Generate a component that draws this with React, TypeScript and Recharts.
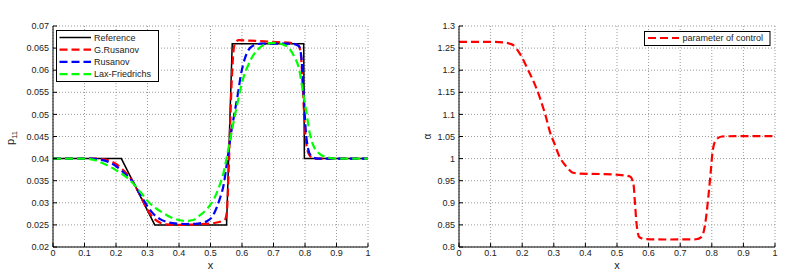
import { LineChart, Line, XAxis, YAxis, CartesianGrid, Legend } from "recharts";

const FONT = '"Liberation Sans", Arial, Helvetica, sans-serif';

// x positions of ticks, shared by both panels
const xTicks = [0, 0.1, 0.2, 0.3, 0.4, 0.5, 0.6, 0.7, 0.8, 0.9, 1];
const pTicks = [0.02, 0.025, 0.03, 0.035, 0.04, 0.045, 0.05, 0.055, 0.06, 0.065, 0.07];
const alphaTicks = [0.8, 0.85, 0.9, 0.95, 1, 1.05, 1.1, 1.15, 1.2, 1.25, 1.3];

// left panel: p11 vs x, [x, p11]
const referenceP: [number, number][] = [
  [0, 0.04], [0.217, 0.04], [0.323, 0.025], [0.551, 0.025], [0.569, 0.066],
  [0.796, 0.066], [0.798, 0.04], [1, 0.04],
];

const gRusanovP: [number, number][] = [
  [0, 0.04], [0.14, 0.04], [0.17, 0.0397], [0.2, 0.0388], [0.22, 0.0376], [0.25, 0.0352],
  [0.28, 0.0312], [0.3, 0.0284], [0.32, 0.0265], [0.34, 0.0255], [0.36, 0.0251], [0.4, 0.025],
  [0.45, 0.0251], [0.5, 0.0253], [0.53, 0.0257], [0.545, 0.0261], [0.552, 0.028], [0.557, 0.036],
  [0.562, 0.0465], [0.567, 0.057], [0.572, 0.0635], [0.578, 0.0662], [0.59, 0.0668], [0.62, 0.0667],
  [0.7, 0.0664], [0.76, 0.0661], [0.78, 0.0655], [0.787, 0.0635], [0.793, 0.056], [0.8, 0.0465],
  [0.806, 0.0425], [0.815, 0.0407], [0.83, 0.04], [1, 0.04],
];

const rusanovP: [number, number][] = [
  [0, 0.04], [0.12, 0.04], [0.15, 0.0398], [0.18, 0.0391], [0.2, 0.0383], [0.22, 0.0371],
  [0.25, 0.035], [0.28, 0.0315], [0.3, 0.0292], [0.32, 0.0274], [0.34, 0.0263], [0.36, 0.0257],
  [0.38, 0.0254], [0.42, 0.0252], [0.46, 0.0253], [0.49, 0.0259], [0.505, 0.0268], [0.52, 0.029],
  [0.53, 0.031], [0.541, 0.0338], [0.555, 0.0405], [0.567, 0.0465], [0.578, 0.051], [0.588, 0.0551],
  [0.596, 0.0588], [0.604, 0.0614], [0.615, 0.0638], [0.636, 0.0656], [0.66, 0.066], [0.76, 0.066],
  [0.78, 0.0655], [0.788, 0.0632], [0.795, 0.0555], [0.802, 0.0468], [0.81, 0.0422], [0.82, 0.0406],
  [0.84, 0.04], [1, 0.04],
];

const laxFriedrichsP: [number, number][] = [
  [0, 0.04], [0.1, 0.04], [0.13, 0.0397], [0.16, 0.0389], [0.2, 0.0374], [0.23, 0.036],
  [0.254, 0.0344], [0.28, 0.0322], [0.307, 0.0299], [0.33, 0.0286], [0.35, 0.0277], [0.375, 0.0267],
  [0.4, 0.0261], [0.425, 0.0259], [0.445, 0.0261], [0.467, 0.0272], [0.49, 0.0287], [0.509, 0.0306],
  [0.525, 0.0332], [0.541, 0.0367], [0.562, 0.0442], [0.583, 0.0517], [0.604, 0.0582], [0.62, 0.0612],
  [0.636, 0.0634], [0.655, 0.065], [0.678, 0.066], [0.7, 0.0662], [0.73, 0.0658], [0.75, 0.0649],
  [0.765, 0.0632], [0.782, 0.06], [0.793, 0.0553], [0.805, 0.0502], [0.815, 0.0458], [0.825, 0.0432],
  [0.84, 0.0415], [0.86, 0.0405], [0.9, 0.04], [1, 0.04],
];

// right panel: control parameter alpha vs x
const alphaControl: [number, number][] = [
  [0, 1.264], [0.1, 1.264], [0.14, 1.263], [0.16, 1.26], [0.171, 1.257], [0.192, 1.238],
  [0.219, 1.2], [0.245, 1.159], [0.272, 1.102], [0.293, 1.049], [0.298, 1.041], [0.319, 1.003],
  [0.341, 0.981], [0.361, 0.968], [0.383, 0.966], [0.45, 0.965], [0.5, 0.9635], [0.541, 0.9595],
  [0.552, 0.943], [0.557, 0.898], [0.562, 0.852], [0.571, 0.822], [0.589, 0.818], [0.65, 0.817],
  [0.75, 0.8175], [0.768, 0.823], [0.779, 0.852], [0.789, 0.913], [0.797, 0.973], [0.803, 1.019],
  [0.814, 1.043], [0.832, 1.05], [0.9, 1.051], [1, 1.051],
];

const toRows = (pts: [number, number][]) => pts.map(([x, y]) => ({ x, y }));

const leftSeries = [
  { name: "Reference", data: referenceP, color: "#000000", width: 1.5, dash: undefined, curve: "linear" },
  { name: "G.Rusanov", data: gRusanovP, color: "#ff0000", width: 2.2, dash: "8 4", curve: "monotone" },
  { name: "Rusanov", data: rusanovP, color: "#0000ff", width: 2.2, dash: "8 4", curve: "monotone" },
  { name: "Lax-Friedrichs", data: laxFriedrichsP, color: "#00ff00", width: 2.2, dash: "8 4", curve: "monotone" },
];

const tickStyle = { fill: "#222", fontSize: 9, fontFamily: FONT };

const title = (text: string) => (props: any) => {
  const vb = props.viewBox;
  return (
    <text x={vb.x + vb.width / 2} y={vb.y - 7} textAnchor="middle" fontSize={10.5} fontFamily={FONT} fill="#222">
      {text}
    </text>
  );
};

const xLabel = (props: any) => {
  const vb = props.viewBox;
  return (
    <text x={vb.x + vb.width / 2} y={vb.y + 22} textAnchor="middle" fontSize={11} fontFamily={FONT} fill="#222">
      x
    </text>
  );
};

const pLabel = (props: any) => {
  const vb = props.viewBox;
  const x = vb.x + 14;
  const y = 138;
  return (
    <text x={x} y={y} transform={`rotate(-90 ${x} ${y})`} textAnchor="middle" fontSize={11} fontFamily={FONT} fill="#222">
      p<tspan fontSize={7.5} dy={3}>11</tspan>
    </text>
  );
};

const alphaLabel = (props: any) => {
  const vb = props.viewBox;
  const x = vb.x + 31;
  const y = 136.5;
  return (
    <text x={x} y={y} transform={`rotate(-90 ${x} ${y})`} textAnchor="middle" fontSize={10} fontFamily={FONT} fill="#222">
      α
    </text>
  );
};

const LeftLegend = () => (
  <svg width={103} height={52} style={{ display: "block" }}>
    <rect x={0.5} y={0.5} width={102} height={51} fill="#fff" stroke="#000" />
    {leftSeries.map((s, i) => {
      const y = 7.5 + i * 12.2;
      return (
        <g key={s.name}>
          <line x1={3.5} x2={35} y1={y} y2={y} stroke={s.color} strokeWidth={s.width} strokeDasharray={s.dash} />
          <text x={38} y={y} dy="0.35em" fontSize={9} fontFamily={FONT} fill="#222">{s.name}</text>
        </g>
      );
    })}
  </svg>
);

const RightLegend = () => (
  <svg width={127} height={15} style={{ display: "block" }}>
    <rect x={0.5} y={0.5} width={125.5} height={14} fill="#fff" stroke="#000" />
    <line x1={4} x2={35} y1={7} y2={7} stroke="#ff0000" strokeWidth={2.2} strokeDasharray="8 4" />
    <text x={38.5} y={7} dy="0.35em" fontSize={9} fontFamily={FONT} fill="#222">parameter of control</text>
  </svg>
);

function Panel(props: {
  left: number;
  width: number;
  yAxisWidth: number;
  rightMargin: number;
  yDomain: [number, number];
  yTicks: number[];
  titleText: string;
  yLabel: (p: any) => any;
  legend: () => any;
  legendPos: { left: number; top: number; width: number; height: number };
  children: any;
}) {
  return (
    <div style={{ position: "absolute", left: props.left, top: 0 }}>
      <LineChart width={props.width} height={277} margin={{ top: 26, right: props.rightMargin, bottom: 0, left: 0 }}>
        <CartesianGrid stroke="#9a9a9a" strokeDasharray="1 2" />
        <XAxis
          dataKey="x" type="number" domain={[0, 1]} ticks={xTicks} interval={0} height={30}
          tickSize={-4} tickMargin={7} stroke="#000" tick={tickStyle} label={xLabel}
        />
        <XAxis
          xAxisId="top" orientation="top" type="number" domain={[0, 1]} ticks={xTicks} interval={0}
          height={0} tickSize={-4} tick={false} stroke="#000" label={title(props.titleText)}
        />
        <YAxis
          type="number" domain={props.yDomain} ticks={props.yTicks} interval={0} width={props.yAxisWidth}
          tickSize={-4} tickMargin={8} stroke="#000" tick={tickStyle} label={props.yLabel}
        />
        <YAxis
          yAxisId="right" orientation="right" type="number" domain={props.yDomain} ticks={props.yTicks}
          interval={0} width={0} tickSize={-4} tick={false} stroke="#000"
        />
        <Legend
          layout="horizontal" verticalAlign="middle" align="center"
          wrapperStyle={{ ...props.legendPos }}
          content={props.legend}
        />
        {props.children}
      </LineChart>
    </div>
  );
}

export default function App() {
  return (
    <div style={{ position: "absolute", left: 0, top: 0, width: 792, height: 277, background: "#fff" }}>
      <Panel
        left={0} width={400} yAxisWidth={53} rightMargin={32}
        yDomain={[0.02, 0.07]} yTicks={pTicks}
        titleText="300 gridpoint, t=0.5 s" yLabel={pLabel}
        legend={LeftLegend} legendPos={{ left: 56, top: 30, width: 103, height: 52 }}
      >
        {leftSeries.map((s) => (
          <Line
            key={s.name} name={s.name} data={toRows(s.data)} dataKey="y" type={s.curve as any}
            stroke={s.color} strokeWidth={s.width} strokeDasharray={s.dash}
            dot={false} activeDot={false} isAnimationActive={false}
          />
        ))}
      </Panel>
      <Panel
        left={400} width={392} yAxisWidth={59} rightMargin={17}
        yDomain={[0.8, 1.3]} yTicks={alphaTicks}
        titleText="G.Rusanov, 300 gridpoint, t=0.5 s" yLabel={alphaLabel}
        legend={RightLegend} legendPos={{ left: 244, top: 31, width: 127, height: 15 }}
      >
        <Line
          name="parameter of control" data={toRows(alphaControl)} dataKey="y" type="monotone"
          stroke="#ff0000" strokeWidth={2.2} strokeDasharray="8 4"
          dot={false} activeDot={false} isAnimationActive={false}
        />
      </Panel>
    </div>
  );
}
